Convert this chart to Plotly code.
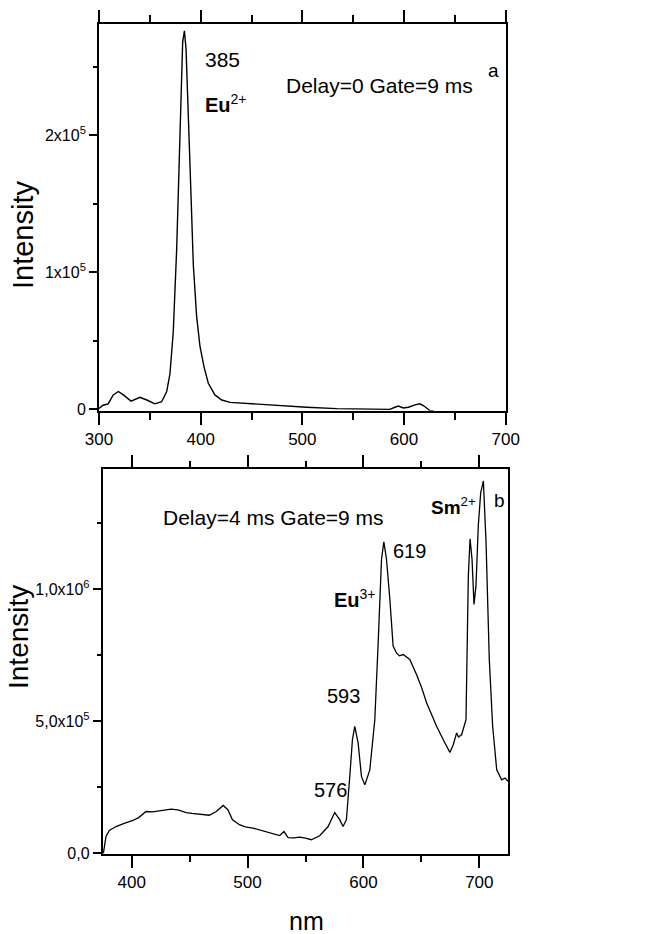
import plotly.graph_objects as go

# ---- Panel a: Delay=0, Gate=9 ms ----
wl_a = [300, 304, 309, 314, 319, 324, 331.5, 340.3, 347, 355, 361.6, 366.6, 369.8, 373, 376.4,
        379.7, 382.3, 384, 385.6, 389.5, 392.8, 396, 399.3, 403.3, 407.5, 414, 420.7, 428.9,
        451.8, 481.3, 504.3, 533.8, 563, 586, 591, 594.4, 599.3, 604.3, 610.8, 615.7, 619.7,
        625.6, 628.9]
int_a = [700, 3000, 4000, 10500, 13000, 10500, 6000, 8800, 6800, 4000, 5500, 13000, 26000,
         56000, 117000, 202000, 268000, 276000, 263000, 178000, 105000, 68000, 46000, 31000,
         19000, 10500, 6800, 5100, 3900, 2700, 1500, 500, 0, 0, 1500, 2400, 1000, 1500, 3200,
         4000, 2400, -1000, -1200]

# ---- Panel b: Delay=4 ms, Gate=9 ms ----
wl_b = [375.6, 377.8, 380.7, 386.5, 393, 401, 406, 412.4, 418, 424, 429, 434, 440, 447, 452,
        458.5, 463, 467, 473, 479, 483, 487, 493, 498, 504.6, 510, 516, 522, 527.7, 531.4, 535,
        540, 545, 550, 555, 562.2, 569.5, 575.2, 579.5, 582.4, 585.3, 588.2, 590.5, 592.5,
        595.4, 598.3, 601.2, 605.5, 609.8, 612.7, 615.6, 617.6, 619.9, 622.8, 625.6, 628.5,
        631, 634.3, 637, 640, 645.8, 650, 654.5, 663.1, 670.3, 674.6, 677.5, 680.4, 682, 684.7,
        688.5, 690.5, 692, 693.7, 695.4, 697.1, 699.1, 701.2, 703.5, 705.8, 708.6, 711.5, 715,
        719.3, 722.2, 725]
int_b = [0, 63000, 86000, 101000, 112000, 124000, 135000, 158000, 157000, 161000, 163000,
         167000, 164000, 154000, 151000, 148000, 146000, 144000, 158000, 181000, 165000, 127000,
         108000, 100000, 95000, 88000, 82000, 74000, 67000, 82000, 59000, 58000, 61000, 57000,
         51000, 66000, 101000, 154000, 127000, 101000, 127000, 291000, 430000, 481000, 418000,
         291000, 259000, 316000, 506000, 797000, 1114000, 1180000, 1114000, 962000, 785000,
         759000, 748000, 753000, 745000, 734000, 677000, 630000, 570000, 481000, 418000, 382000,
         411000, 456000, 440000, 449000, 506000, 1051000, 1192000, 1114000, 943000, 1013000,
         1241000, 1367000, 1411000, 1177000, 734000, 481000, 316000, 278000, 285000, 272000]

xticks = [300, 400, 500, 600, 700]
xticks_b = [400, 500, 600, 700]
yticks_a = [0, 100000, 200000]
ylabels_a = ["0", "1x10<sup>5</sup>", "2x10<sup>5</sup>"]
yticks_b = [0, 500000, 1000000]
ylabels_b = ["0,0", "5,0x10<sup>5</sup>", "1,0x10<sup>6</sup>"]

W, H = 648, 934
SANS = "Liberation Sans, Arial, sans-serif"

fig = go.Figure()
fig.add_trace(go.Scatter(x=wl_a, y=int_a, mode="lines", line=dict(color="black", width=1.4),
                         xaxis="x", yaxis="y", showlegend=False, hoverinfo="x+y"))
fig.add_trace(go.Scatter(x=wl_b, y=int_b, mode="lines", line=dict(color="black", width=1.3),
                         xaxis="x2", yaxis="y2", showlegend=False, hoverinfo="x+y"))

def px(x):
    return x / W

def py(y):
    return 1 - y / H

common_x = dict(showgrid=False, zeroline=False, showline=True, linecolor="black", linewidth=1.8,
                ticks="outside", ticklen=12, tickwidth=1.5, tickcolor="black", mirror="ticks",
                tickfont=dict(family=SANS, size=17, color="black"), ticklabelstandoff=0,
                automargin=False)
common_y = dict(showgrid=False, zeroline=False, showline=True, linecolor="black", linewidth=1.8,
                ticks="outside", ticklen=8, tickwidth=1.5, tickcolor="black", mirror=True,
                tickfont=dict(family=SANS, size=16, color="black"), ticklabelstandoff=0,
                automargin=False)

fig.update_layout(
    width=W, height=H, margin=dict(l=0, r=0, t=0, b=0, autoexpand=False),
    paper_bgcolor="white", plot_bgcolor="white",
    xaxis=dict(domain=[px(99), px(505.7)], range=[300, 700], anchor="y",
               tickmode="array", tickvals=xticks,
               minor=dict(tickvals=[350, 450, 550, 650], ticklen=7, tickwidth=1.5,
                          tickcolor="black", ticks="outside"),
               **common_x),
    yaxis=dict(domain=[py(410.7), py(24)], range=[-1000, 281000], anchor="x",
               tickmode="array", tickvals=yticks_a, ticktext=ylabels_a,
               minor=dict(tickvals=[50000, 150000, 250000], ticklen=4, tickwidth=1.5,
                          tickcolor="black", ticks="outside"),
               **common_y),
    xaxis2=dict(domain=[px(102.7), px(508.3)], range=[375, 725], anchor="y2",
                tickmode="array", tickvals=xticks_b,
                minor=dict(tickvals=[450, 550, 650], ticklen=6, tickwidth=1.5,
                           tickcolor="black", ticks="outside"),
                **common_x),
    yaxis2=dict(domain=[py(854), py(469.3)], range=[-3000, 1455000], anchor="x2",
                tickmode="array", tickvals=yticks_b, ticktext=ylabels_b,
                minor=dict(tickvals=[250000, 750000, 1250000], ticklen=4, tickwidth=1.5,
                           tickcolor="black", ticks="outside"),
                **common_y),
)

def ann(text, x, y, size, family=SANS, angle=0, xanchor="left", yanchor="middle"):
    fig.add_annotation(text=text, x=px(x), y=py(y), xref="paper", yref="paper",
                       showarrow=False, xanchor=xanchor, yanchor=yanchor, textangle=angle,
                       font=dict(family=family, size=size, color="black"))

# axis titles
ann("Intensity", 23, 235, 29, angle=-90, xanchor="center")
ann("Intensity", 18, 637, 28, angle=-90, xanchor="center")
ann("nm", 306, 921, 25, xanchor="center")

# panel a labels
ann("385", 203, 59, 21)
ann("<b>Eu</b><sup>2+</sup>", 203, 104, 20)
ann("Delay=0 Gate=9 ms", 284, 85, 21)
ann("a", 486, 70, 19)

# panel b labels
ann("Delay=4 ms Gate=9 ms", 161, 517, 21)
ann("619", 391, 551, 20)
ann("<b>Eu</b><sup>3+</sup>", 332, 598, 20)
ann("593", 325, 696, 20)
ann("576", 312, 790, 20)
ann("<b>Sm</b><sup>2+</sup>", 429, 506, 19)
ann("b", 492, 500, 19)

fig.write_html("out.html", config={"displayModeBar": False},
               post_script="document.body.style.margin='0';")
